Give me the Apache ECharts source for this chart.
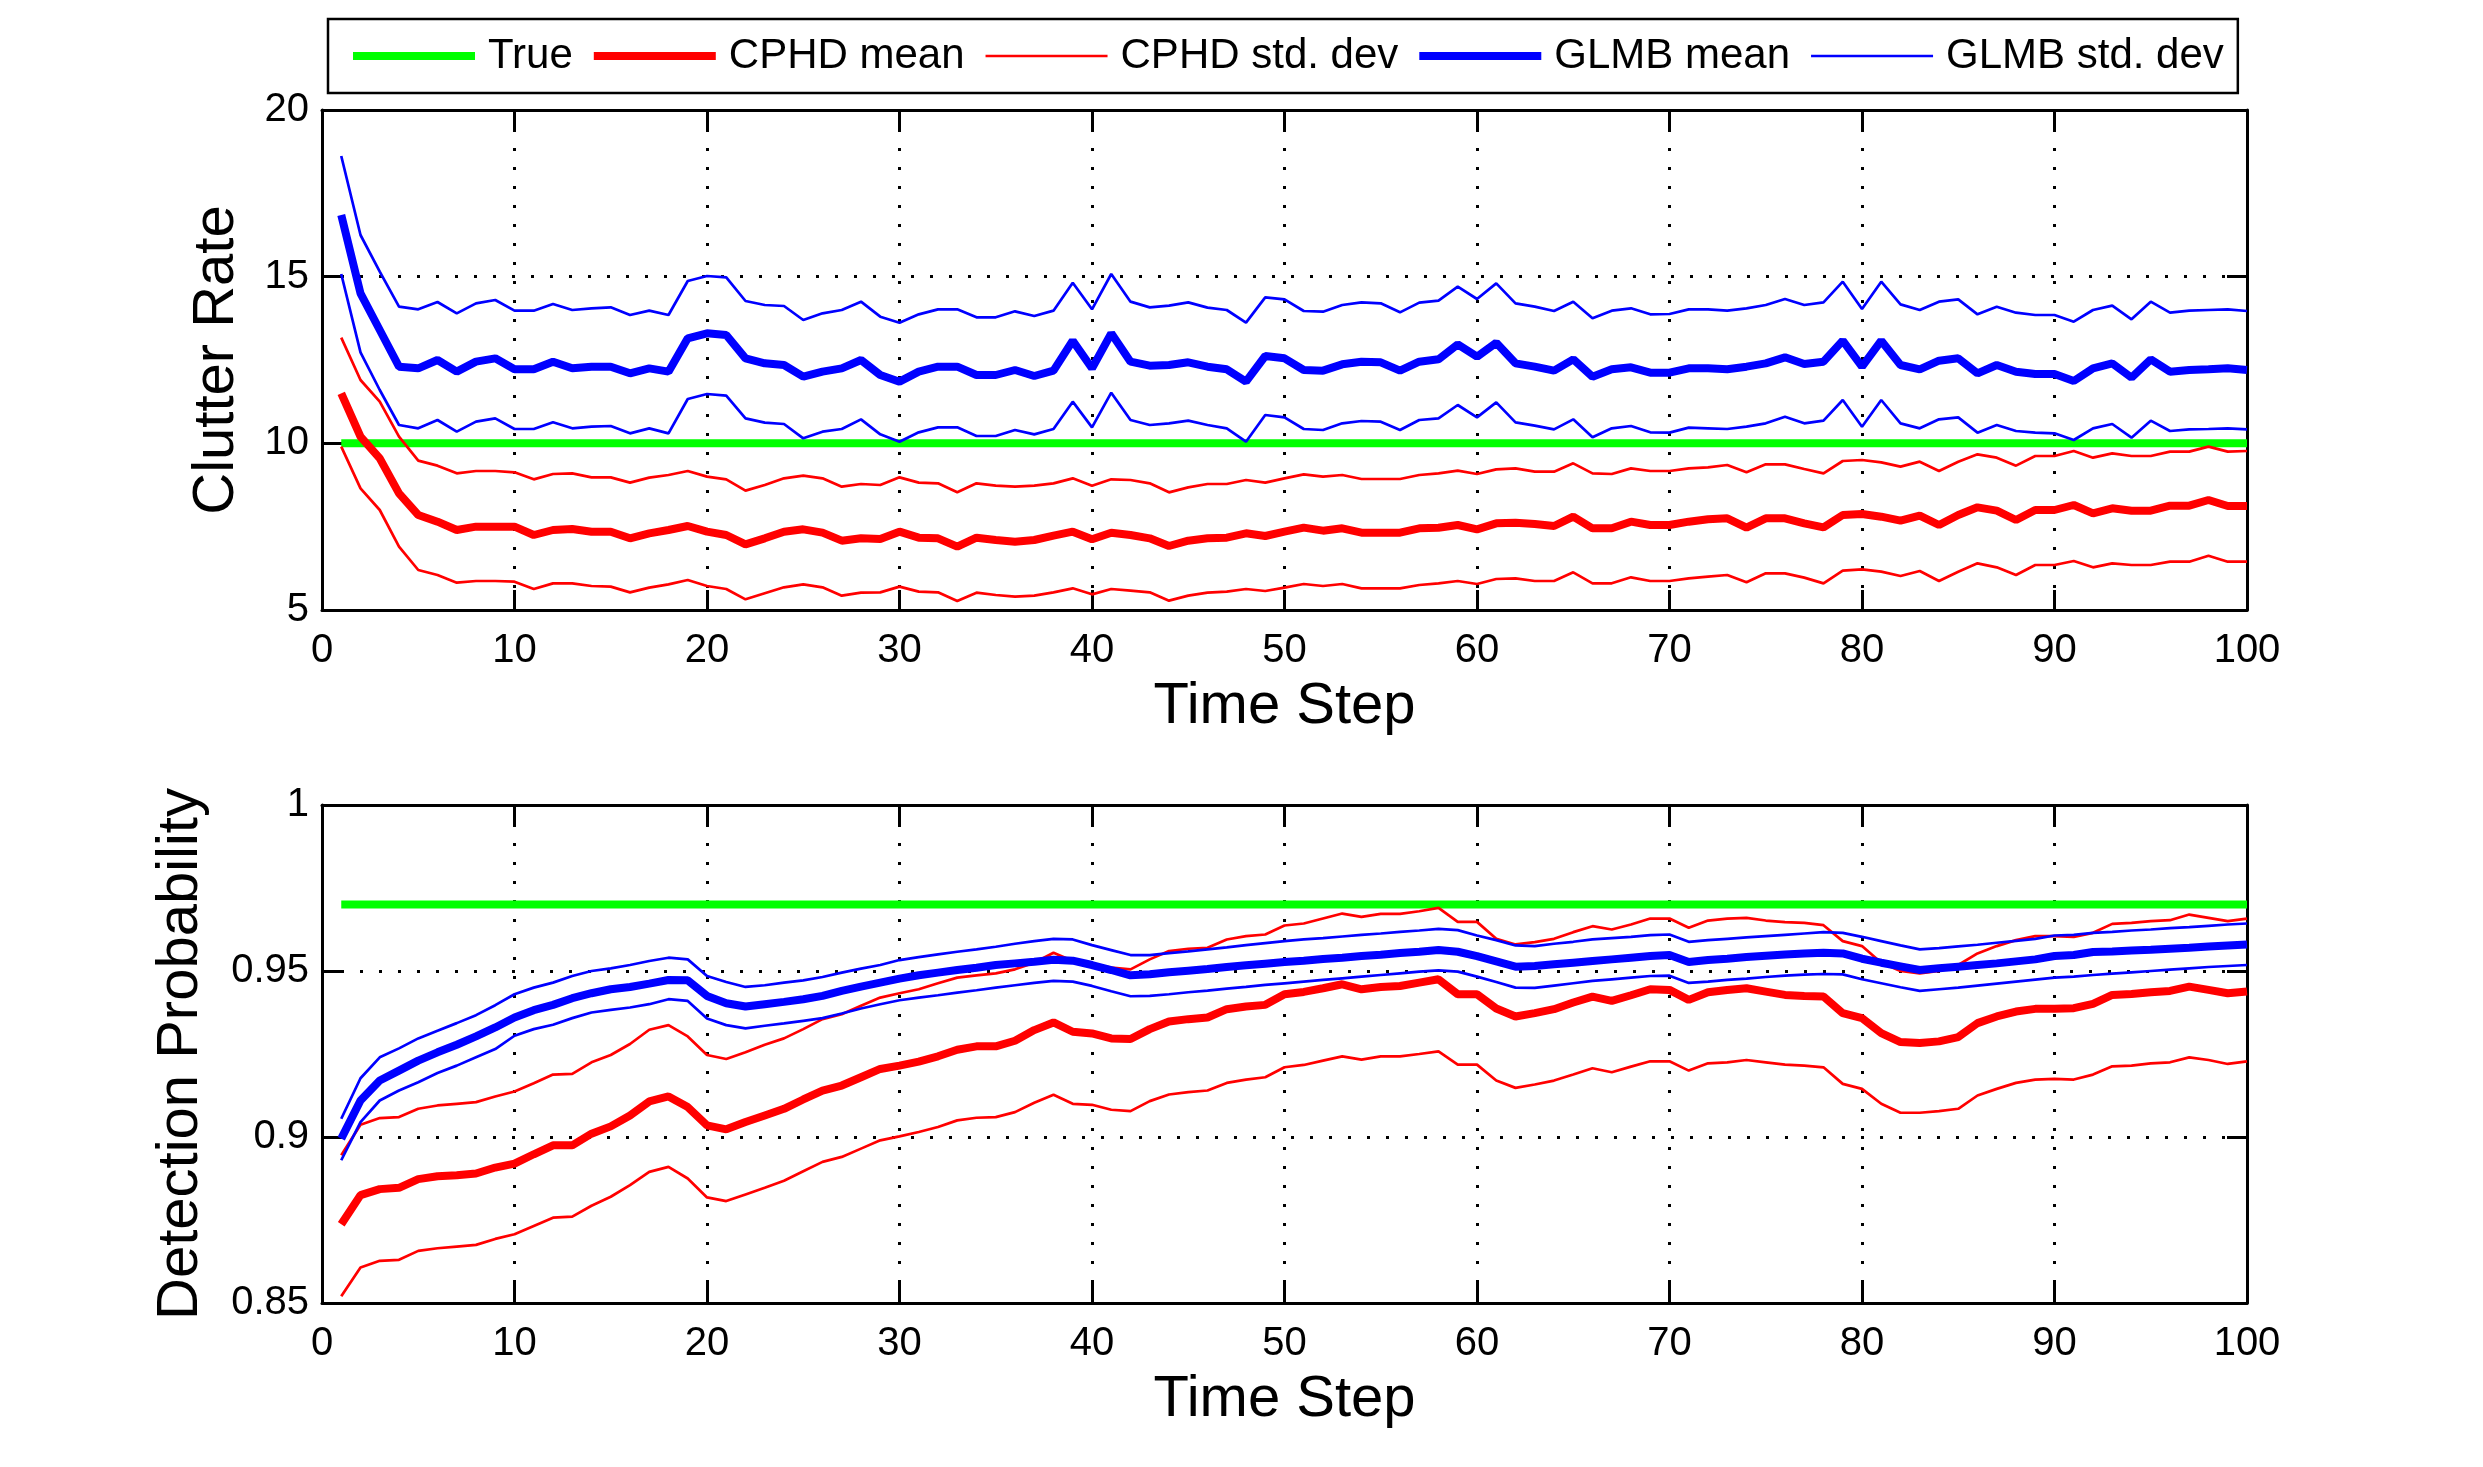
<!DOCTYPE html>
<html>
<head>
<meta charset="utf-8">
<script src="https://cdn.jsdelivr.net/npm/echarts@6/dist/echarts.min.js"></script>
<style>
html, body { margin: 0; padding: 0; background: #fff; }
#main { width: 2483px; height: 1467px; }
</style>
</head>
<body>
<div id="main"></div>
<script>
// time steps 1..100
var timeSteps = [];
for (var i = 1; i <= 100; i++) {
    timeSteps.push(i);
}

// true values (flat lines)
var trueSteps = [1, 100];
var trueClutter = [10, 10];
var truePd = [0.97, 0.97];

// clutter rate
var cphdMeanClutter = [11.5, 10.2, 9.55, 8.5, 7.85, 7.65, 7.4, 7.5, 7.5, 7.5,
    7.25, 7.4, 7.43, 7.35, 7.35, 7.15, 7.3, 7.4, 7.52, 7.35,
    7.25, 6.97, 7.15, 7.35, 7.42, 7.32, 7.08, 7.15, 7.13, 7.35,
    7.17, 7.15, 6.9, 7.17, 7.1, 7.05, 7.1, 7.23, 7.35, 7.12,
    7.32, 7.25, 7.15, 6.92, 7.08, 7.15, 7.17, 7.3, 7.22, 7.35,
    7.47, 7.38, 7.45, 7.32, 7.32, 7.32, 7.45, 7.47, 7.55, 7.42,
    7.6, 7.62, 7.58, 7.52, 7.8, 7.45, 7.45, 7.65, 7.55, 7.55,
    7.65, 7.72, 7.75, 7.47, 7.75, 7.75, 7.6, 7.48, 7.85, 7.88,
    7.8, 7.68, 7.83, 7.55, 7.85, 8.08, 7.98, 7.7, 8.0, 8.0,
    8.15, 7.9, 8.05, 7.98, 7.98, 8.13, 8.13, 8.3, 8.12, 8.12];
var cphdUpperClutter = [13.17, 11.9, 11.25, 10.2, 9.48, 9.33, 9.1, 9.17, 9.17, 9.13,
    8.92, 9.08, 9.1, 8.98, 8.98, 8.82, 8.97, 9.05, 9.17, 9.0,
    8.92, 8.58, 8.75, 8.95, 9.03, 8.95, 8.7, 8.78, 8.75, 8.98,
    8.82, 8.8, 8.53, 8.8, 8.73, 8.7, 8.73, 8.8, 8.95, 8.73,
    8.92, 8.9, 8.8, 8.53, 8.68, 8.78, 8.78, 8.9, 8.82, 8.95,
    9.07, 9.0, 9.05, 8.93, 8.93, 8.93, 9.05, 9.1, 9.18, 9.08,
    9.22, 9.25, 9.15, 9.15, 9.4, 9.1, 9.08, 9.25, 9.17, 9.17,
    9.25, 9.28, 9.35, 9.13, 9.37, 9.37, 9.23, 9.1, 9.47, 9.5,
    9.43, 9.3, 9.45, 9.17, 9.45, 9.67, 9.57, 9.33, 9.62, 9.62,
    9.77, 9.57, 9.7, 9.62, 9.62, 9.75, 9.75, 9.9, 9.75, 9.77];
var cphdLowerClutter = [9.9, 8.65, 8.0, 6.9, 6.2, 6.05, 5.82, 5.87, 5.87, 5.85,
    5.63, 5.8, 5.8, 5.72, 5.7, 5.53, 5.67, 5.77, 5.9, 5.72,
    5.63, 5.32, 5.5, 5.68, 5.77, 5.68, 5.43, 5.52, 5.53, 5.7,
    5.55, 5.53, 5.27, 5.52, 5.45, 5.4, 5.43, 5.53, 5.65, 5.47,
    5.63, 5.58, 5.53, 5.28, 5.43, 5.52, 5.55, 5.63, 5.57, 5.67,
    5.78, 5.72, 5.78, 5.65, 5.65, 5.65, 5.75, 5.8, 5.87, 5.78,
    5.93, 5.95, 5.87, 5.87, 6.13, 5.8, 5.8, 5.98, 5.87, 5.87,
    5.95, 6.0, 6.05, 5.83, 6.1, 6.1, 5.97, 5.8, 6.18, 6.22,
    6.15, 6.02, 6.17, 5.87, 6.15, 6.4, 6.28, 6.05, 6.35, 6.35,
    6.47, 6.28, 6.4, 6.35, 6.35, 6.45, 6.45, 6.63, 6.45, 6.45];
var glmbMeanClutter = [16.85, 14.5, 13.4, 12.3, 12.25, 12.5, 12.15, 12.45, 12.55, 12.22,
    12.22, 12.45, 12.25, 12.3, 12.3, 12.1, 12.25, 12.15, 13.15, 13.3,
    13.25, 12.55, 12.4, 12.35, 12.0, 12.15, 12.25, 12.5, 12.05, 11.85,
    12.15, 12.3, 12.3, 12.05, 12.05, 12.2, 12.02, 12.18, 13.08, 12.25,
    13.3, 12.45, 12.33, 12.35, 12.43, 12.3, 12.22, 11.85, 12.62, 12.55,
    12.2, 12.18, 12.37, 12.45, 12.43, 12.18, 12.45, 12.52, 12.97, 12.6,
    13.02, 12.4, 12.3, 12.18, 12.52, 12.0, 12.22, 12.28, 12.12, 12.12,
    12.25, 12.25, 12.22, 12.3, 12.4, 12.58, 12.38, 12.45, 13.08, 12.3,
    13.08, 12.35, 12.22, 12.48, 12.55, 12.1, 12.35, 12.15, 12.08, 12.08,
    11.87, 12.25, 12.4, 11.97, 12.52, 12.15, 12.2, 12.22, 12.25, 12.2];
var glmbUpperClutter = [18.62, 16.25, 15.15, 14.1, 14.02, 14.24, 13.9, 14.2, 14.3, 13.98,
    13.98, 14.18, 14.0, 14.05, 14.08, 13.85, 13.98, 13.85, 14.87, 15.02,
    14.98, 14.27, 14.15, 14.12, 13.7, 13.9, 14.0, 14.25, 13.8, 13.62,
    13.87, 14.02, 14.02, 13.78, 13.78, 13.96, 13.82, 13.98, 14.82, 14.02,
    15.08, 14.25, 14.08, 14.13, 14.23, 14.07, 14.0, 13.62, 14.38, 14.32,
    13.97, 13.95, 14.15, 14.23, 14.2, 13.93, 14.22, 14.28, 14.7, 14.33,
    14.8, 14.2, 14.1, 13.97, 14.25, 13.75, 13.98, 14.05, 13.87, 13.88,
    14.02, 14.02, 13.98, 14.05, 14.15, 14.33, 14.15, 14.23, 14.85, 14.03,
    14.85, 14.17, 14.0, 14.25, 14.32, 13.87, 14.1, 13.92, 13.85, 13.85,
    13.65, 14.0, 14.13, 13.72, 14.25, 13.92, 13.98, 14.0, 14.02, 13.97];
var glmbLowerClutter = [15.08, 12.73, 11.6, 10.55, 10.45, 10.7, 10.35, 10.65, 10.75, 10.43,
    10.43, 10.63, 10.45, 10.5, 10.52, 10.3, 10.45, 10.3, 11.33, 11.48,
    11.43, 10.75, 10.62, 10.58, 10.15, 10.35, 10.43, 10.72, 10.27, 10.05,
    10.33, 10.48, 10.48, 10.22, 10.22, 10.4, 10.27, 10.43, 11.25, 10.48,
    11.52, 10.7, 10.55, 10.6, 10.68, 10.55, 10.45, 10.05, 10.85, 10.78,
    10.43, 10.4, 10.6, 10.67, 10.65, 10.4, 10.7, 10.75, 11.15, 10.78,
    11.23, 10.63, 10.53, 10.42, 10.72, 10.18, 10.45, 10.52, 10.33, 10.32,
    10.47, 10.45, 10.43, 10.5, 10.6, 10.8, 10.6, 10.68, 11.3, 10.5,
    11.3, 10.6, 10.45, 10.72, 10.78, 10.32, 10.55, 10.37, 10.32, 10.3,
    10.1, 10.45, 10.58, 10.17, 10.68, 10.37, 10.42, 10.43, 10.45, 10.42];

// detection probability
var cphdMeanPd = [0.8737, 0.8825, 0.8843, 0.8847, 0.8873, 0.8882, 0.8885, 0.889, 0.8908, 0.892,
    0.8948, 0.8975, 0.8975, 0.901, 0.9032, 0.9065, 0.9107, 0.9122, 0.909, 0.9035,
    0.9023, 0.9045, 0.9065, 0.9085, 0.9113, 0.914, 0.9155, 0.918, 0.9205, 0.9215,
    0.9227, 0.9243, 0.9263, 0.9273, 0.9273, 0.929, 0.9322, 0.9345, 0.9317, 0.9312,
    0.9297, 0.9295, 0.9325, 0.9348, 0.9355, 0.936, 0.9385, 0.9393, 0.9398, 0.943,
    0.9437, 0.9448, 0.946, 0.9445, 0.9452, 0.9455, 0.9465, 0.9475, 0.943, 0.943,
    0.9387, 0.9363, 0.9373, 0.9385, 0.9405, 0.9423, 0.941, 0.9427, 0.9445, 0.9443,
    0.9413, 0.9436, 0.9443, 0.9448, 0.9438, 0.9428, 0.9425, 0.9423, 0.9373, 0.9358,
    0.9313, 0.9286, 0.9283, 0.9288, 0.9301, 0.9343, 0.9363, 0.9378, 0.9386, 0.9386,
    0.9388, 0.9401, 0.9428, 0.9431, 0.9436, 0.944, 0.9453, 0.9443, 0.9433, 0.9438];
var cphdUpperPd = [0.8945, 0.9037, 0.9057, 0.906, 0.9085, 0.9095, 0.91, 0.9105, 0.9122, 0.9137,
    0.9162, 0.9188, 0.919, 0.9225, 0.9247, 0.928, 0.9323, 0.9337, 0.9303, 0.9247,
    0.9235, 0.9255, 0.9278, 0.9297, 0.9325, 0.9355, 0.937, 0.9395, 0.942, 0.9433,
    0.9445, 0.9463, 0.948, 0.9487, 0.9493, 0.9505, 0.9525, 0.9555, 0.953, 0.952,
    0.951, 0.9505, 0.9535, 0.956, 0.9567, 0.957, 0.9595, 0.9605, 0.961, 0.9637,
    0.9643, 0.9658, 0.9673, 0.9663, 0.9672, 0.9672, 0.968, 0.969, 0.9648, 0.9648,
    0.9597, 0.958, 0.9587, 0.9597, 0.9617, 0.9635, 0.9625, 0.964, 0.9658, 0.9658,
    0.963, 0.9652, 0.9658, 0.966, 0.9652, 0.9647, 0.9645, 0.9638, 0.959, 0.9575,
    0.9525, 0.95, 0.9493, 0.95, 0.9518, 0.9553, 0.9575, 0.9593, 0.9605, 0.9605,
    0.9603, 0.9615, 0.9642, 0.9645, 0.965, 0.9653, 0.967, 0.966, 0.965, 0.9658];
var cphdLowerPd = [0.852, 0.8607, 0.8627, 0.863, 0.8657, 0.8665, 0.867, 0.8675, 0.8693, 0.8707,
    0.8732, 0.8757, 0.876, 0.8793, 0.882, 0.8855, 0.8895, 0.891, 0.8875, 0.8818,
    0.8807, 0.8827, 0.8847, 0.8868, 0.8897, 0.8925, 0.894, 0.8965, 0.899, 0.9002,
    0.9015, 0.903, 0.905, 0.9058, 0.906, 0.9075, 0.9103, 0.9127, 0.91, 0.9097,
    0.9082, 0.9078, 0.9108, 0.9128, 0.9135, 0.914, 0.9163, 0.9173, 0.918, 0.921,
    0.9217, 0.923, 0.9243, 0.9233, 0.9243, 0.9243, 0.925, 0.9258, 0.9218, 0.9218,
    0.917, 0.9148, 0.9158, 0.917, 0.9188, 0.9207, 0.9195, 0.9212, 0.9228, 0.9228,
    0.92, 0.9222, 0.9225, 0.9232, 0.9225, 0.9218, 0.9215, 0.921, 0.916, 0.9145,
    0.91, 0.9073, 0.9073, 0.9078, 0.9085, 0.9125, 0.9145, 0.9163, 0.9173, 0.9175,
    0.9173, 0.9188, 0.9213, 0.9215, 0.9222, 0.9225, 0.924, 0.9232, 0.922, 0.9228];
var glmbMeanPd = [0.8995, 0.911, 0.917, 0.92, 0.923, 0.9255, 0.9278, 0.9303, 0.933, 0.936,
    0.9382, 0.9398, 0.9418, 0.9433, 0.9445, 0.9452, 0.9462, 0.9473, 0.9472, 0.9425,
    0.9403, 0.9393, 0.94, 0.9407, 0.9415, 0.9425, 0.944, 0.9453, 0.9465, 0.9477,
    0.9487, 0.9495, 0.9503, 0.951, 0.9518, 0.9523, 0.9528, 0.9534, 0.9531, 0.9518,
    0.9503, 0.9487, 0.949, 0.9496, 0.9501, 0.9506, 0.9512, 0.9517, 0.9522, 0.9527,
    0.9531, 0.9536, 0.954, 0.9545, 0.9549, 0.9554, 0.9558, 0.9563, 0.9558, 0.9545,
    0.9529, 0.9513, 0.9515, 0.952, 0.9525, 0.953, 0.9535, 0.954, 0.9545, 0.9548,
    0.9527, 0.9533, 0.9537, 0.9542, 0.9546, 0.955, 0.9553, 0.9555, 0.9553, 0.9537,
    0.9525, 0.9514, 0.9503, 0.9508, 0.9513, 0.9518, 0.9523, 0.9529, 0.9535, 0.9545,
    0.9548, 0.9557, 0.9559, 0.9562, 0.9564, 0.9567, 0.957, 0.9574, 0.9577, 0.958];
var glmbUpperPd = [0.9055, 0.9177, 0.924, 0.9267, 0.9297, 0.932, 0.9343, 0.9367, 0.9397, 0.943,
    0.945, 0.9465, 0.9485, 0.95, 0.9508, 0.9518, 0.953, 0.954, 0.9535, 0.9485,
    0.9467, 0.9452, 0.9457, 0.9465, 0.9472, 0.9482, 0.9495, 0.9507, 0.9518, 0.9533,
    0.9542, 0.955, 0.9558, 0.9565, 0.9573, 0.9582, 0.959, 0.9597, 0.9595, 0.9578,
    0.9563, 0.9548, 0.9548, 0.9554, 0.9559, 0.9565, 0.9571, 0.9578, 0.9584, 0.959,
    0.9595, 0.9599, 0.9604, 0.9609, 0.9613, 0.9618, 0.9622, 0.9627, 0.9623, 0.9607,
    0.9593, 0.9577, 0.9575, 0.9582, 0.9588, 0.9595, 0.9599, 0.9603, 0.9608, 0.961,
    0.9588, 0.9593, 0.9597, 0.9601, 0.9605, 0.9609, 0.9613, 0.9617, 0.9615, 0.9603,
    0.959, 0.9577, 0.9565, 0.9569, 0.9574, 0.9579, 0.9585, 0.9591, 0.9597, 0.9607,
    0.9609, 0.9615, 0.9618, 0.9622, 0.9625, 0.9629, 0.9632, 0.9636, 0.964, 0.9643];
var glmbLowerPd = [0.893, 0.9045, 0.911, 0.914, 0.9165, 0.9193, 0.9215, 0.924, 0.9265, 0.9305,
    0.9325, 0.9338, 0.9358, 0.9375, 0.9383, 0.939, 0.94, 0.9415, 0.941, 0.9357,
    0.9337, 0.9327, 0.9335, 0.9342, 0.935, 0.9358, 0.9372, 0.9387, 0.94, 0.9412,
    0.942, 0.9427, 0.9435, 0.9442, 0.945, 0.9457, 0.9464, 0.947, 0.9468, 0.9455,
    0.9439, 0.9424, 0.9425, 0.943, 0.9436, 0.9441, 0.9447, 0.9452, 0.9458, 0.9463,
    0.9468, 0.9473, 0.9478, 0.9483, 0.9488, 0.9493, 0.9498, 0.9502, 0.9498, 0.9483,
    0.9467, 0.945, 0.9449, 0.9456, 0.9463, 0.947, 0.9475, 0.948, 0.9485, 0.9486,
    0.9464, 0.9468, 0.9473, 0.9477, 0.9482, 0.9486, 0.9489, 0.9491, 0.949, 0.9475,
    0.9463, 0.9451, 0.944, 0.9445, 0.945, 0.9456, 0.9462, 0.9468, 0.9474, 0.948,
    0.9483, 0.9488, 0.9492, 0.9496, 0.95, 0.9504, 0.9508, 0.9512, 0.9515, 0.9518];

var fontName = "'Liberation Sans', Arial, Helvetica, sans-serif";
var thickW = 8;
var thinW = 2.7;
var thickIcon = 'path://M0,0L122,0L122,8L0,8Z';
var thinIcon = 'path://M0,0L122,0L122,2.7L0,2.7Z';

function pairs(xs, ys) {
    var out = [];
    for (var k = 0; k < ys.length; k++) {
        out.push([xs[k], ys[k]]);
    }
    return out;
}

var axisLineStyle = {color: '#000', width: 3};
var gridDots = {color: '#000', width: 3, type: [3, 16]};

function mainX(gi) {
    return {
        type: 'value', gridIndex: gi, position: 'bottom',
        min: 0, max: 100, interval: 10,
        name: 'Time Step', nameLocation: 'middle', nameGap: 68,
        nameTextStyle: {fontSize: 58, fontFamily: fontName, color: '#000'},
        axisLine: {onZero: false, lineStyle: axisLineStyle},
        axisTick: {inside: true, length: 20, lineStyle: axisLineStyle},
        axisLabel: {fontSize: 40, fontFamily: fontName, color: '#000', margin: 21},
        splitLine: {show: true, lineStyle: gridDots}
    };
}
function mirrorX(gi) {
    return {
        type: 'value', gridIndex: gi, position: 'top',
        min: 0, max: 100, interval: 10,
        axisLine: {onZero: false, lineStyle: axisLineStyle},
        axisTick: {inside: true, length: 20, lineStyle: axisLineStyle},
        axisLabel: {show: false},
        splitLine: {show: false}
    };
}
function mainY(gi, min, max, step, name, gap) {
    return {
        type: 'value', gridIndex: gi, position: 'left',
        min: min, max: max, interval: step,
        name: name, nameLocation: 'middle', nameGap: gap,
        nameTextStyle: {fontSize: 58, fontFamily: fontName, color: '#000'},
        axisLine: {onZero: false, lineStyle: axisLineStyle},
        axisTick: {inside: true, length: 20, lineStyle: axisLineStyle},
        axisLabel: {fontSize: 40, fontFamily: fontName, color: '#000', margin: 13},
        splitLine: {show: true, lineStyle: gridDots}
    };
}
function mirrorY(gi, min, max, step) {
    return {
        type: 'value', gridIndex: gi, position: 'right',
        min: min, max: max, interval: step,
        axisLine: {onZero: false, lineStyle: axisLineStyle},
        axisTick: {inside: true, length: 20, lineStyle: axisLineStyle},
        axisLabel: {show: false},
        splitLine: {show: false}
    };
}

function lineSeries(name, data, color, width, axisIdx) {
    return {
        name: name, type: 'line', data: data,
        xAxisIndex: axisIdx, yAxisIndex: axisIdx,
        symbol: 'none', showSymbol: false, silent: true,
        color: color,
        lineStyle: {color: color, width: width},
        emphasis: {disabled: true}
    };
}

var series = [
    lineSeries('True', pairs(trueSteps, trueClutter), '#00ff00', thickW, 0),
    lineSeries('CPHD mean', pairs(timeSteps, cphdMeanClutter), '#ff0000', thickW, 0),
    lineSeries('CPHD std. dev', pairs(timeSteps, cphdUpperClutter), '#ff0000', thinW, 0),
    lineSeries('CPHD std. dev', pairs(timeSteps, cphdLowerClutter), '#ff0000', thinW, 0),
    lineSeries('GLMB mean', pairs(timeSteps, glmbMeanClutter), '#0000ff', thickW, 0),
    lineSeries('GLMB std. dev', pairs(timeSteps, glmbUpperClutter), '#0000ff', thinW, 0),
    lineSeries('GLMB std. dev', pairs(timeSteps, glmbLowerClutter), '#0000ff', thinW, 0),

    lineSeries('True', pairs(trueSteps, truePd), '#00ff00', thickW, 2),
    lineSeries('CPHD mean', pairs(timeSteps, cphdMeanPd), '#ff0000', thickW, 2),
    lineSeries('CPHD std. dev', pairs(timeSteps, cphdUpperPd), '#ff0000', thinW, 2),
    lineSeries('CPHD std. dev', pairs(timeSteps, cphdLowerPd), '#ff0000', thinW, 2),
    lineSeries('GLMB mean', pairs(timeSteps, glmbMeanPd), '#0000ff', thickW, 2),
    lineSeries('GLMB std. dev', pairs(timeSteps, glmbUpperPd), '#0000ff', thinW, 2),
    lineSeries('GLMB std. dev', pairs(timeSteps, glmbLowerPd), '#0000ff', thinW, 2)
];

var chart = echarts.init(document.getElementById('main'));
chart.setOption({
    animation: false,
    backgroundColor: '#fff',
    legend: {
        left: 328, top: 19,
        padding: [16, 14, 16, 25],
        borderColor: '#000', borderWidth: 2.5,
        backgroundColor: '#fff',
        itemWidth: 122, itemHeight: 24, itemGap: 21,
        itemStyle: {borderWidth: 0},
        textStyle: {fontSize: 42, fontFamily: fontName, color: '#000', padding: [0, 0, 0, 8]},
        selectedMode: false,
        data: [
            {name: 'True', icon: thickIcon},
            {name: 'CPHD mean', icon: thickIcon},
            {name: 'CPHD std. dev', icon: thinIcon},
            {name: 'GLMB mean', icon: thickIcon},
            {name: 'GLMB std. dev', icon: thinIcon}
        ]
    },
    grid: [
        {left: 322, top: 110, width: 1925, height: 500},
        {left: 322, top: 805, width: 1925, height: 498}
    ],
    xAxis: [mainX(0), mirrorX(0), mainX(1), mirrorX(1)],
    yAxis: [
        mainY(0, 5, 20, 5, 'Clutter Rate', 76),
        mirrorY(0, 5, 20, 5),
        mainY(1, 0.85, 1, 0.05, 'Detection Probability', 112),
        mirrorY(1, 0.85, 1, 0.05)
    ],
    series: series
});
</script>
</body>
</html>
